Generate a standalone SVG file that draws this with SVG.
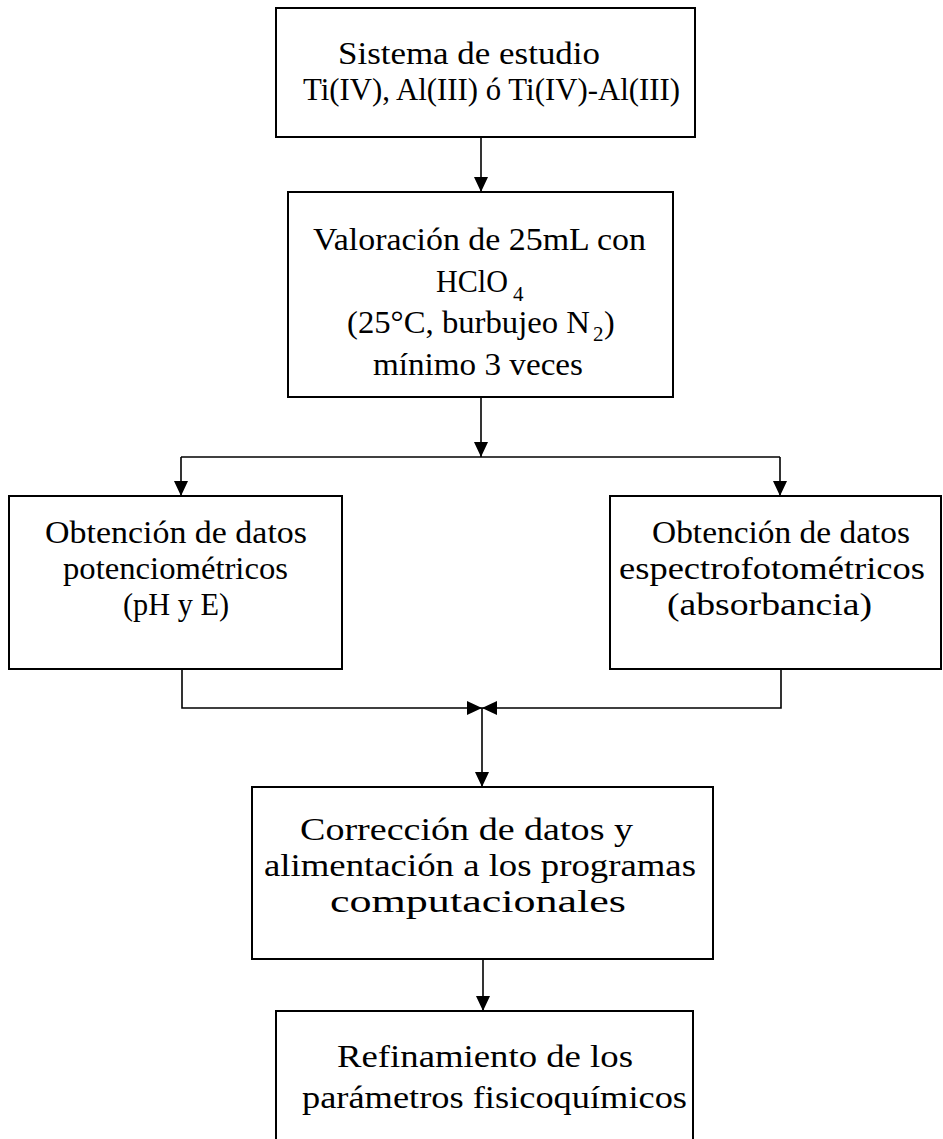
<svg xmlns="http://www.w3.org/2000/svg" width="943" height="1139" viewBox="0 0 943 1139">
<style>
.box{fill:#fff;stroke:#000;stroke-width:2}
.t{font-family:"Liberation Serif","Times New Roman",serif;font-size:32px;fill:#000}
.s{font-family:"Liberation Serif","Times New Roman",serif;font-size:21px;fill:#000}
.c{fill:none;stroke:#000;stroke-width:1.6}
</style>
<defs>
<marker id="ah" markerUnits="userSpaceOnUse" markerWidth="15" markerHeight="14" viewBox="0 0 15 14" refX="15" refY="7" orient="auto">
<path d="M0,0 L15,7 L0,14 z" fill="#000"/>
</marker>
</defs>
<rect width="943" height="1139" fill="#fff"/>
<g id="connectors">
<path class="c" d="M481,137 V192" marker-end="url(#ah)"/>
<path class="c" d="M481,397 V457" marker-end="url(#ah)"/>
<path class="c" d="M181,457 H780"/>
<path class="c" d="M181,457 V496" marker-end="url(#ah)"/>
<path class="c" d="M780,457 V496" marker-end="url(#ah)"/>
<path class="c" d="M182,669 V708 H482" marker-end="url(#ah)"/>
<path class="c" d="M781,669 V708 H482" marker-end="url(#ah)"/>
<path class="c" d="M482,708 V787" marker-end="url(#ah)"/>
<path class="c" d="M483,959 V1011" marker-end="url(#ah)"/>
</g>
<g id="n1">
<rect class="box" x="276" y="8" width="419" height="129"/>
<text class="t" x="338" y="64" textLength="262" lengthAdjust="spacingAndGlyphs">Sistema de estudio</text>
<text class="t" x="303" y="100" textLength="377" lengthAdjust="spacingAndGlyphs">Ti(IV), Al(III) ó Ti(IV)-Al(III)</text>
</g>
<g id="n2">
<rect class="box" x="288" y="192" width="385" height="205"/>
<text class="t" x="313" y="250" textLength="333" lengthAdjust="spacingAndGlyphs">Valoración de 25mL con</text>
<text class="t" x="436" y="292" textLength="72" lengthAdjust="spacingAndGlyphs">HClO</text>
<text class="s" x="513" y="301">4</text>
<text class="t" x="347" y="333" textLength="243" lengthAdjust="spacingAndGlyphs">(25°C, burbujeo N</text>
<text class="s" x="593" y="341">2</text>
<text class="t" x="604" y="333">)</text>
<text class="t" x="373" y="375" textLength="210" lengthAdjust="spacingAndGlyphs">mínimo 3 veces</text>
</g>
<g id="n3">
<rect class="box" x="9" y="496" width="333" height="173"/>
<text class="t" x="45" y="543" textLength="262" lengthAdjust="spacingAndGlyphs">Obtención de datos</text>
<text class="t" x="63" y="579" textLength="225" lengthAdjust="spacingAndGlyphs">potenciométricos</text>
<text class="t" x="123" y="615" textLength="106" lengthAdjust="spacingAndGlyphs">(pH y E)</text>
</g>
<g id="n4">
<rect class="box" x="610" y="496" width="331" height="173"/>
<text class="t" x="652" y="543" textLength="258" lengthAdjust="spacingAndGlyphs">Obtención de datos</text>
<text class="t" x="619" y="579" textLength="306" lengthAdjust="spacingAndGlyphs">espectrofotométricos</text>
<text class="t" x="667" y="615" textLength="205" lengthAdjust="spacingAndGlyphs">(absorbancia)</text>
</g>
<g id="n5">
<rect class="box" x="252" y="787" width="461" height="172"/>
<text class="t" x="300" y="840" textLength="333" lengthAdjust="spacingAndGlyphs">Corrección de datos y</text>
<text class="t" x="264" y="876" textLength="432" lengthAdjust="spacingAndGlyphs">alimentación a los programas</text>
<text class="t" x="330" y="912" textLength="296" lengthAdjust="spacingAndGlyphs">computacionales</text>
</g>
<g id="n6">
<rect class="box" x="276" y="1011" width="417" height="140"/>
<text class="t" x="337" y="1067" textLength="296" lengthAdjust="spacingAndGlyphs">Refinamiento de los</text>
<text class="t" x="302" y="1108" textLength="385" lengthAdjust="spacingAndGlyphs">parámetros fisicoquímicos</text>
</g>
</svg>
